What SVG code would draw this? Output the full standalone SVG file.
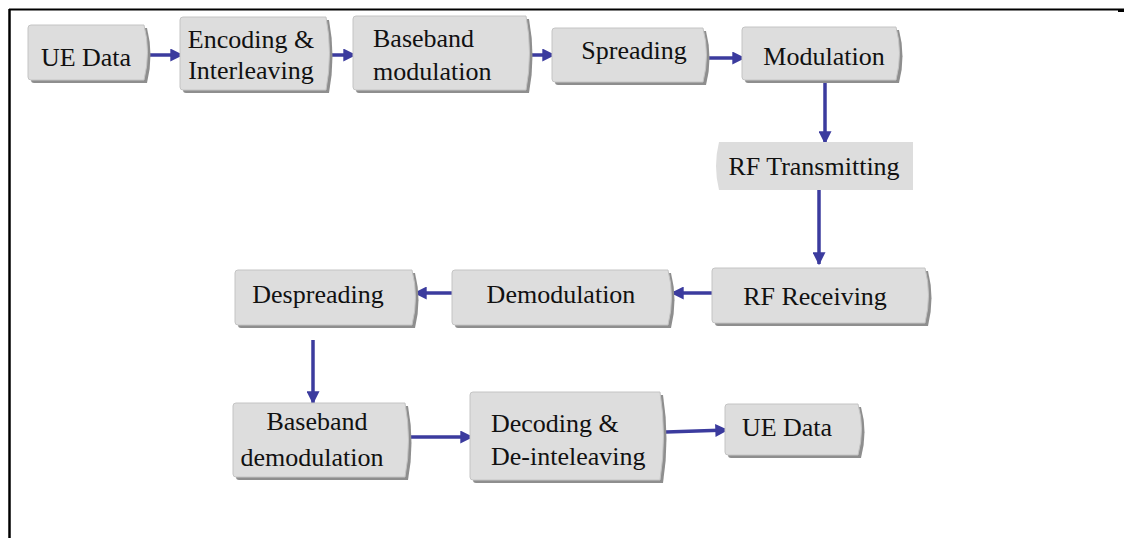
<svg xmlns="http://www.w3.org/2000/svg" width="1124" height="538" viewBox="0 0 1124 538">
<defs>
<style>
.box{fill:#dddddd;stroke:#c4c4c4;stroke-width:1}
.sh{fill:#8e8e8e}
.t{font-family:"Liberation Serif","Times New Roman",serif;font-size:26px;fill:#111}
.c{stroke:#3b3b9e;stroke-width:3.5;fill:none;marker-end:url(#ah)}
</style>
<marker id="ah" viewBox="0 0 10 10" refX="9" refY="5" markerUnits="userSpaceOnUse" markerWidth="15" markerHeight="13" orient="auto">
<path d="M0,0 L10,5 L0,10 Z" fill="#3b3b9e"/>
</marker>
</defs>
<rect width="1124" height="538" fill="#fff"/>
<line x1="9" y1="9.5" x2="1124" y2="9.5" stroke="#000" stroke-width="2"/>
<line x1="9.5" y1="9" x2="9.5" y2="538" stroke="#000" stroke-width="2.5"/>
<rect x="1118" y="9" width="6" height="3" fill="#000"/>

<g id="connectors">
<line class="c" x1="148" y1="55" x2="182" y2="55"/>
<line class="c" x1="330" y1="55" x2="355" y2="55"/>
<line class="c" x1="530" y1="55" x2="554" y2="55"/>
<line class="c" x1="707" y1="58" x2="744" y2="58"/>
<line class="c" x1="825" y1="81" x2="825" y2="143"/>
<line class="c" x1="819" y1="189" x2="819" y2="264"/>
<line class="c" x1="712" y1="293" x2="672" y2="293"/>
<line class="c" x1="452" y1="293" x2="415" y2="293"/>
<line class="c" x1="313" y1="340" x2="313" y2="403"/>
<line class="c" x1="410" y1="437" x2="472" y2="437"/>
<line class="c" x1="666" y1="432" x2="727" y2="430"/>
</g>

<g id="n1">
<path class="sh" transform="translate(3,3)" d="M31,25 H144 Q151,52 144,80 H31 Q28,80 28,77 V28 Q28,25 31,25 Z"/>
<path class="box" d="M31,25 H144 Q151,52 144,80 H31 Q28,80 28,77 V28 Q28,25 31,25 Z"/>
<text class="t" x="86" y="66" text-anchor="middle">UE Data</text>
</g>
<g id="n2">
<path class="sh" transform="translate(3,3)" d="M183,17 H326 Q333,53 326,90 H183 Q180,90 180,87 V20 Q180,17 183,17 Z"/>
<path class="box" d="M183,17 H326 Q333,53 326,90 H183 Q180,90 180,87 V20 Q180,17 183,17 Z"/>
<text class="t" x="251" y="48" text-anchor="middle">Encoding &amp;</text>
<text class="t" x="251" y="79" text-anchor="middle">Interleaving</text>
</g>
<g id="n3">
<path class="sh" transform="translate(3,3)" d="M356,16 H526 Q533,53 526,90 H356 Q353,90 353,87 V19 Q353,16 356,16 Z"/>
<path class="box" d="M356,16 H526 Q533,53 526,90 H356 Q353,90 353,87 V19 Q353,16 356,16 Z"/>
<text class="t" x="373" y="47">Baseband</text>
<text class="t" x="373" y="80">modulation</text>
</g>
<g id="n4">
<path class="sh" transform="translate(3,3)" d="M555,28 H703 Q710,55 703,82 H555 Q552,82 552,79 V31 Q552,28 555,28 Z"/>
<path class="box" d="M555,28 H703 Q710,55 703,82 H555 Q552,82 552,79 V31 Q552,28 555,28 Z"/>
<text class="t" x="634" y="59" text-anchor="middle">Spreading</text>
</g>
<g id="n5">
<path class="sh" transform="translate(3,3)" d="M745,27 H896 Q903,53 896,80 H745 Q742,80 742,77 V30 Q742,27 745,27 Z"/>
<path class="box" d="M745,27 H896 Q903,53 896,80 H745 Q742,80 742,77 V30 Q742,27 745,27 Z"/>
<text class="t" x="824" y="65" text-anchor="middle">Modulation</text>
</g>
<g id="n6">
<path d="M719,142 H913 V190 H719 Q713,166 719,142 Z" fill="#dddddd"/>
<text class="t" x="814" y="175" text-anchor="middle">RF Transmitting</text>
</g>
<g id="n7">
<path class="sh" transform="translate(3,3)" d="M715,268 H925 Q932,295 925,323 H715 Q712,323 712,320 V271 Q712,268 715,268 Z"/>
<path class="box" d="M715,268 H925 Q932,295 925,323 H715 Q712,323 712,320 V271 Q712,268 715,268 Z"/>
<text class="t" x="815" y="305" text-anchor="middle">RF Receiving</text>
</g>
<g id="n8">
<path class="sh" transform="translate(3,3)" d="M455,270 H668 Q675,297 668,325 H455 Q452,325 452,322 V273 Q452,270 455,270 Z"/>
<path class="box" d="M455,270 H668 Q675,297 668,325 H455 Q452,325 452,322 V273 Q452,270 455,270 Z"/>
<text class="t" x="561" y="303" text-anchor="middle">Demodulation</text>
</g>
<g id="n9">
<path class="sh" transform="translate(3,3)" d="M238,270 H412 Q419,297 412,325 H238 Q235,325 235,322 V273 Q235,270 238,270 Z"/>
<path class="box" d="M238,270 H412 Q419,297 412,325 H238 Q235,325 235,322 V273 Q235,270 238,270 Z"/>
<text class="t" x="318" y="303" text-anchor="middle">Despreading</text>
</g>
<g id="n10">
<path class="sh" transform="translate(3,3)" d="M236,403 H405 Q412,440 405,477 H236 Q233,477 233,474 V406 Q233,403 236,403 Z"/>
<path class="box" d="M236,403 H405 Q412,440 405,477 H236 Q233,477 233,474 V406 Q233,403 236,403 Z"/>
<text class="t" x="317" y="430" text-anchor="middle">Baseband</text>
<text class="t" x="312" y="466" text-anchor="middle">demodulation</text>
</g>
<g id="n11">
<path class="sh" transform="translate(3,3)" d="M473,392 H660 Q667,436 660,480 H473 Q470,480 470,477 V395 Q470,392 473,392 Z"/>
<path class="box" d="M473,392 H660 Q667,436 660,480 H473 Q470,480 470,477 V395 Q470,392 473,392 Z"/>
<text class="t" x="491" y="432">Decoding &amp;</text>
<text class="t" x="491" y="465">De-inteleaving</text>
</g>
<g id="n12">
<path class="sh" transform="translate(3,3)" d="M728,404 H858 Q865,429 858,455 H728 Q725,455 725,452 V407 Q725,404 728,404 Z"/>
<path class="box" d="M728,404 H858 Q865,429 858,455 H728 Q725,455 725,452 V407 Q725,404 728,404 Z"/>
<text class="t" x="787" y="436" text-anchor="middle">UE Data</text>
</g>
</svg>
